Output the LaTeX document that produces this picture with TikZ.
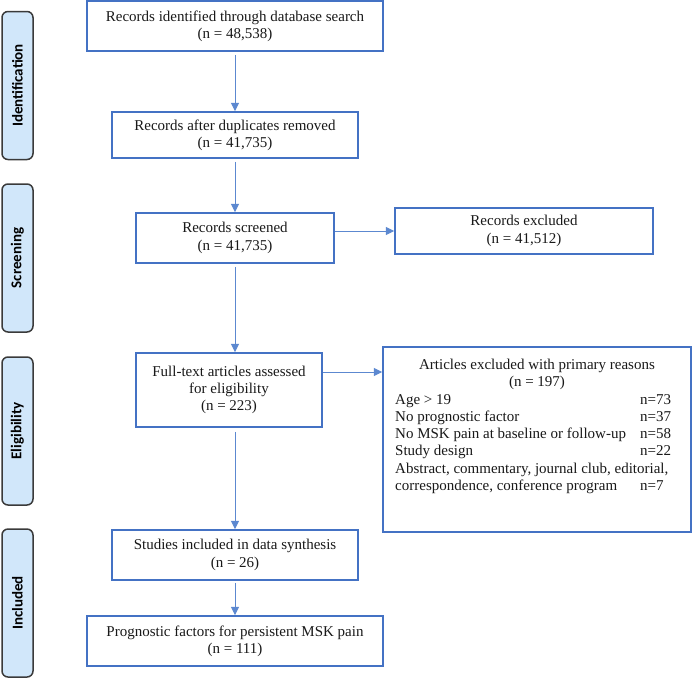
\documentclass[tikz,border=0pt]{standalone}
\usepackage{fontspec}
\setmainfont{Liberation Serif}
\newfontfamily\lblfont{Carlito}
\usetikzlibrary{arrows.meta}
\definecolor{boxblue}{RGB}{68,114,196}
\definecolor{arrblue}{RGB}{92,136,208}
\definecolor{lblfill}{RGB}{209,231,250}
\definecolor{lbledge}{RGB}{58,58,58}
\begin{document}
\begin{tikzpicture}[x=1pt,y=-1pt,
  flowbox/.style={draw=boxblue, line width=1.5pt, fill=white, inner sep=0pt,
    align=center, text=black!90, font=\fontsize{15}{17.25}\selectfont},
  txt/.style={inner sep=0pt, text=black!90, font=\fontsize{15}{17.25}\selectfont},
  phase/.style={draw=lbledge, fill=lblfill, line width=1.5pt, rounded corners=6pt,
    rotate=90, minimum width=148pt, minimum height=31pt, inner sep=0pt,
    font=\lblfont\bfseries\fontsize{15}{17}\selectfont, text=black},
  arr/.style={draw=arrblue, line width=1pt, -{Triangle[length=8.5pt,width=8pt]}}
]
\useasboundingbox (0,0) rectangle (692,678);

% phase labels
\node[phase] (lid)  at (17.5,85.5) {Identification};
\node[phase] (lscr) at (17.5,258)  {Screening};
\node[phase] (lel)  at (17.5,431)  {Eligibility};
\node[phase] (linc) at (17.5,603)  {Included};

% boxes
\node[flowbox, minimum width=296pt, minimum height=50pt] (top)  at (235,26)
  {Records identified through database search\\(n = 48,538)};
\node[flowbox, minimum width=246pt, minimum height=46pt] (dup)  at (235,135)
  {Records after duplicates removed\\(n = 41,735)};
\node[flowbox, minimum width=198pt, minimum height=50pt] (scr)  at (235,238)
  {Records screened\\(n = 41,735)};
\node[flowbox, minimum width=258pt, minimum height=46pt] (excl) at (524,231)
  {Records excluded\\(n = 41,512)};
\node[flowbox, minimum width=186pt, minimum height=74pt] (full) at (229,390)
  {Full-text articles assessed\\for eligibility\\(n = 223)};
\node[flowbox, minimum width=308pt, minimum height=185pt] (arts) at (537,439.5) {};
\node[flowbox, minimum width=246pt, minimum height=50pt] (stud) at (235,555)
  {Studies included in data synthesis\\(n = 26)};
\node[flowbox, minimum width=296pt, minimum height=50pt] (prog) at (235,641)
  {Prognostic factors for persistent MSK pain\\(n = 111)};

% text of the exclusion box
\node[txt, anchor=base] (arthead) at (537,369)
  {\begin{tabular}[t]{@{}c@{}}Articles excluded with primary reasons\\(n = 197)\end{tabular}};
\node[txt, anchor=base west] (artlist) at (395,404)
  {\begin{tabular}[t]{@{}p{245pt}@{}l@{}}
   Age > 19 & n=73\\
   No prognostic factor & n=37\\
   No MSK pain at baseline or follow-up & n=58\\
   Study design & n=22\\
   \multicolumn{2}{@{}l@{}}{Abstract, commentary, journal club, editorial,}\\
   correspondence, conference program & n=7
   \end{tabular}};

% connectors
\coordinate (fa) at ([yshift=18pt]full.east);
\draw[arr, shorten <=3pt] (top) -- (dup);
\draw[arr, shorten <=3pt] (dup) -- (scr);
\draw[arr, shorten <=3pt] (scr.south) -- (scr.south |- full.north);
\draw[arr] (scr.east |- excl.west) -- (excl.west);
\draw[arr] (fa) -- (fa -| arts.west);
\draw[arr, shorten <=4pt] (full.south -| stud.north) -- (stud.north);
\draw[arr, shorten <=2pt] (stud) -- (prog);
\end{tikzpicture}
\end{document}
